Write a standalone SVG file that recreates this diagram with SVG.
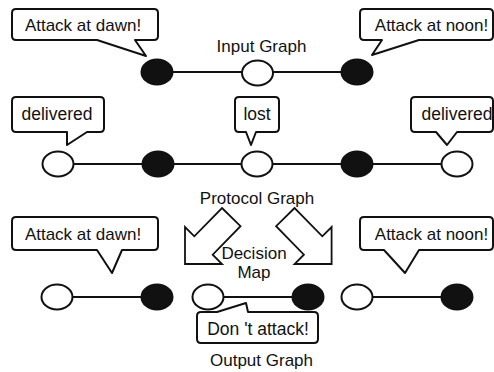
<svg xmlns="http://www.w3.org/2000/svg" width="494" height="372" viewBox="0 0 494 372">
  <style>
    .edge { stroke: #111; stroke-width: 2; fill: none; }
    .open { fill: #fff; stroke: #111; stroke-width: 2; }
    .closed { fill: #111; stroke: #111; stroke-width: 2; }
    .bubble { fill: #fff; stroke: #111; stroke-width: 2; stroke-linejoin: round; }
    .big { fill: #fff; stroke: #111; stroke-width: 1.8; stroke-linejoin: miter; }
    text { font-family: "Liberation Sans", Arial, sans-serif; fill: #111; text-anchor: middle; }
    .say { font-size: 17px; }
    .word { font-size: 17.5px; }
    .title { font-size: 17px; }
  </style>
  <rect width="494" height="372" fill="#fff"/>

  <!-- connectors -->
  <g id="connectors">
    <line class="edge" x1="157" y1="72" x2="357" y2="72"/>
    <line class="edge" x1="58" y1="164" x2="457" y2="164"/>
    <line class="edge" x1="57" y1="297" x2="157" y2="297"/>
    <line class="edge" x1="208" y1="297" x2="308" y2="297"/>
    <line class="edge" x1="357" y1="297" x2="457" y2="297"/>
  </g>

  <!-- input graph -->
  <g id="in-a"><ellipse class="closed" cx="157" cy="72" rx="15.5" ry="12.5"/></g>
  <g id="in-m"><ellipse class="open" cx="257.5" cy="73" rx="15.5" ry="12.5"/></g>
  <g id="in-b"><ellipse class="closed" cx="357" cy="72" rx="15.5" ry="12.5"/></g>
  <g id="label-input"><text class="title" x="261.5" y="52">Input Graph</text></g>
  <g id="say-dawn-top">
    <path class="bubble" d="M16,9 H154 Q158,9 158,13 V36 Q158,40 154,40 H135 L146,56 L97,40 H16 Q12,40 12,36 V13 Q12,9 16,9 Z"/>
    <text class="say" x="83" y="31">Attack at dawn!</text>
  </g>
  <g id="say-noon-top">
    <path class="bubble" d="M364,9 H489 Q493,9 493,13 V36 Q493,40 489,40 H419 L372,55 L382,40 H364 Q360,40 360,36 V13 Q360,9 364,9 Z"/>
    <text class="say" x="431.5" y="31">Attack at noon!</text>
  </g>

  <!-- protocol graph -->
  <g id="p1"><ellipse class="open" cx="58" cy="164" rx="15.5" ry="12.5"/></g>
  <g id="p2"><ellipse class="closed" cx="158" cy="164" rx="15.5" ry="12.5"/></g>
  <g id="p3"><ellipse class="open" cx="257" cy="164" rx="15.5" ry="12.5"/></g>
  <g id="p4"><ellipse class="closed" cx="357" cy="164" rx="15.5" ry="12.5"/></g>
  <g id="p5"><ellipse class="open" cx="457" cy="164" rx="15.5" ry="12.5"/></g>
  <g id="say-delivered-left">
    <path class="bubble" d="M16,97 H100 Q104,97 104,101 V128 Q104,132 100,132 H87 L67,145 L67,132 H16 Q12,132 12,128 V101 Q12,97 16,97 Z"/>
    <text class="word" x="57" y="120">delivered</text>
  </g>
  <g id="say-lost">
    <path class="bubble" d="M239,97 H275 Q279,97 279,101 V128 Q279,132 275,132 H256 L251,145 L246,132 H239 Q235,132 235,128 V101 Q235,97 239,97 Z"/>
    <text class="word" x="257" y="120">lost</text>
  </g>
  <g id="say-delivered-right">
    <path class="bubble" d="M415,97 H489 Q493,97 493,101 V128 Q493,132 489,132 H457 L447,145 L436,132 H415 Q411,132 411,128 V101 Q411,97 415,97 Z"/>
    <text class="word" x="457" y="120">delivered</text>
  </g>
  <g id="label-protocol"><text class="title" x="257" y="203.5">Protocol Graph</text></g>

  <!-- decision map -->
  <g id="map-left"><polygon class="big" points="222,208 240.5,226.2 212.7,254.7 222,264 185,264 185,227 194.3,236.3"/></g>
  <g id="map-right"><polygon class="big" points="294.6,208 276.1,226.2 303.9,254.7 294.6,264 331.6,264 331.6,227 322.3,236.3"/></g>
  <g id="label-map">
    <text class="title" x="254" y="259">Decision</text>
    <text class="title" x="254" y="278">Map</text>
  </g>

  <!-- output graph -->
  <g id="o1"><ellipse class="open" cx="57" cy="297" rx="15.5" ry="12.5"/></g>
  <g id="o2"><ellipse class="closed" cx="157" cy="297" rx="15.5" ry="12.5"/></g>
  <g id="o3"><ellipse class="open" cx="208" cy="297" rx="15.5" ry="12.5"/></g>
  <g id="o4"><ellipse class="closed" cx="308" cy="297" rx="15.5" ry="12.5"/></g>
  <g id="o5"><ellipse class="open" cx="357" cy="297" rx="15.5" ry="12.5"/></g>
  <g id="o6"><ellipse class="closed" cx="457" cy="297" rx="15.5" ry="12.5"/></g>
  <g id="say-dawn-bottom">
    <path class="bubble" d="M16,217 H154 Q158,217 158,221 V246 Q158,250 154,250 H122 L112,273 L97,250 H16 Q12,250 12,246 V221 Q12,217 16,217 Z"/>
    <text class="say" x="83" y="240">Attack at dawn!</text>
  </g>
  <g id="say-noon-bottom">
    <path class="bubble" d="M364,217 H489 Q493,217 493,221 V246 Q493,250 489,250 H419 L405,273 L384,250 H364 Q360,250 360,246 V221 Q360,217 364,217 Z"/>
    <text class="say" x="431.5" y="240">Attack at noon!</text>
  </g>
  <g id="say-hold">
    <path class="bubble" d="M201,312 H217 L246,303 L248,312 H314 Q318,312 318,316 V339 Q318,343 314,343 H201 Q197,343 197,339 V316 Q197,312 201,312 Z"/>
    <text class="word" x="258" y="335">Don 't attack!</text>
  </g>
  <g id="label-output"><text class="title" x="261.5" y="365.5">Output Graph</text></g>
</svg>
